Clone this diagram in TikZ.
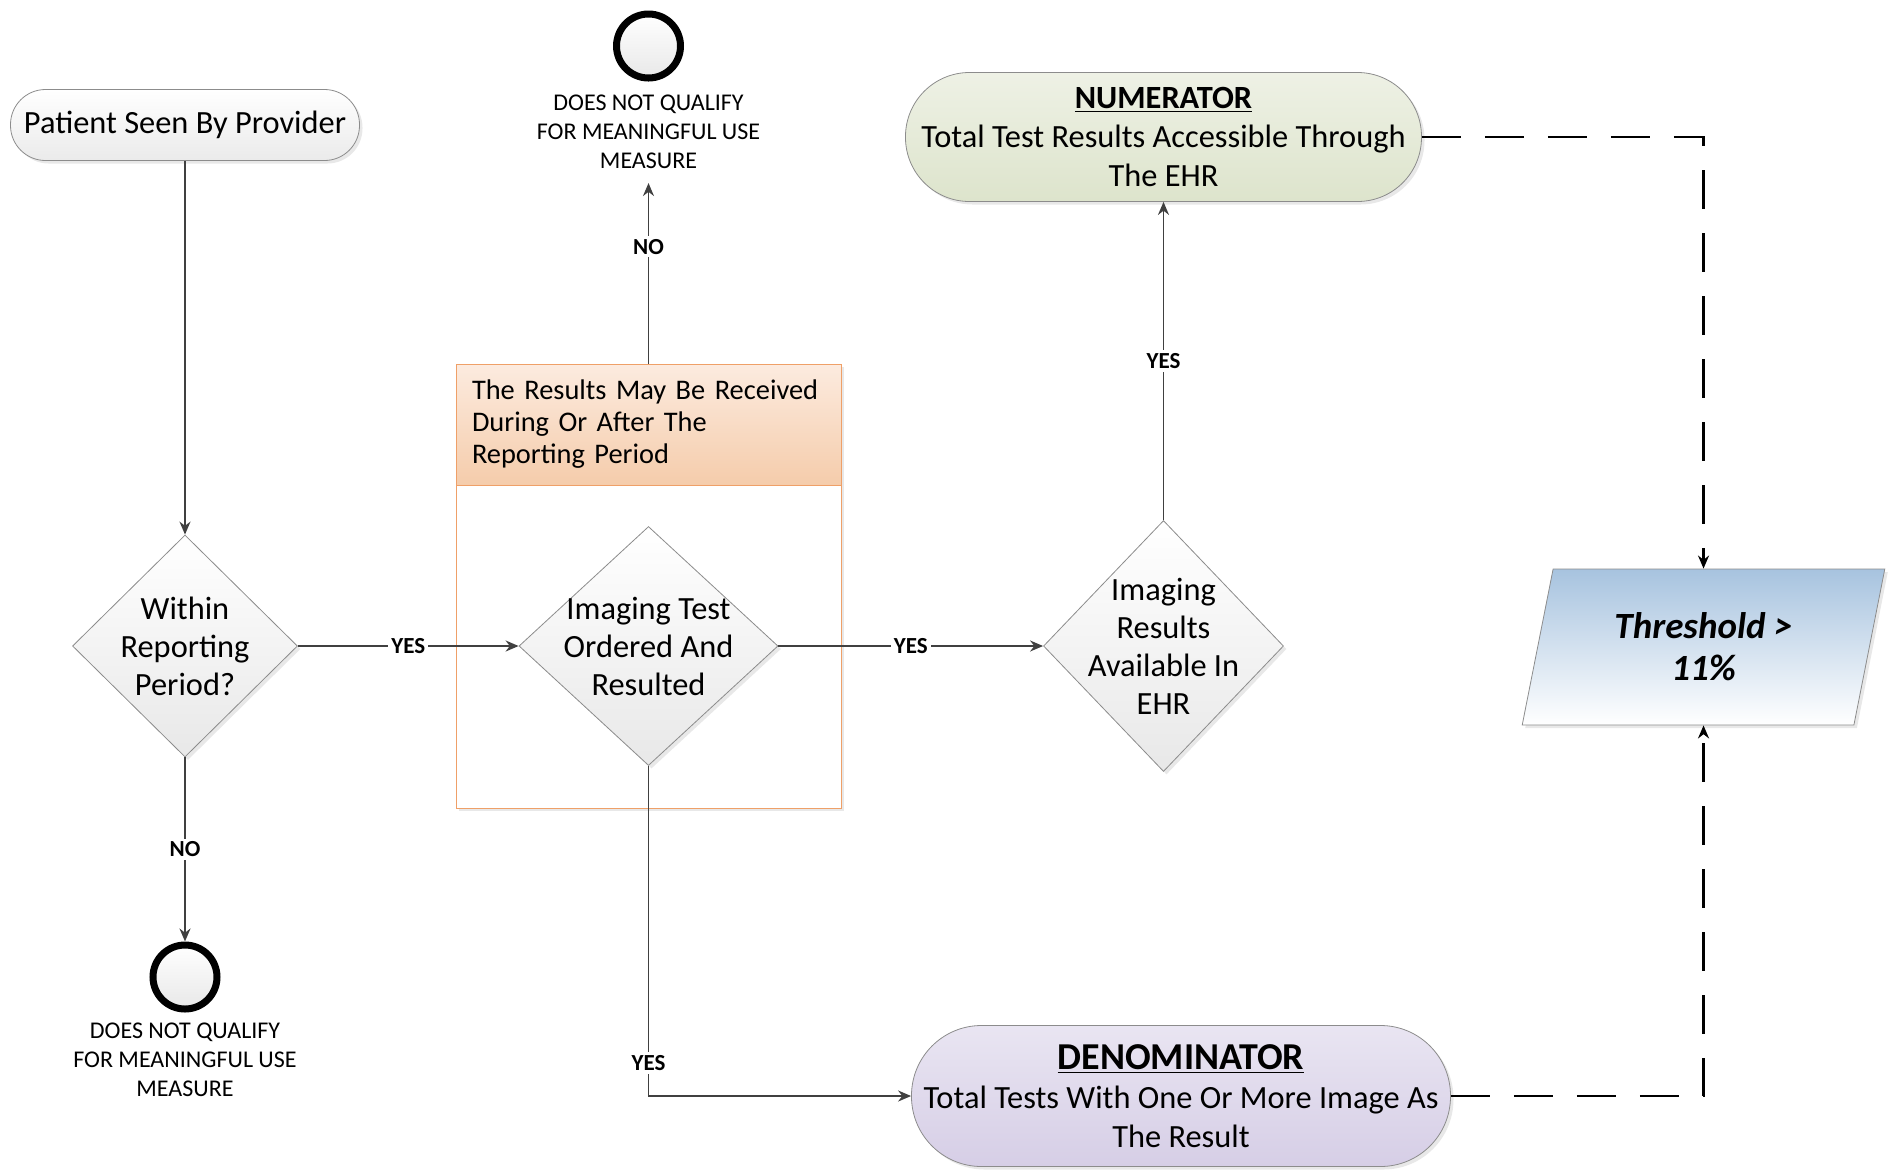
\documentclass[tikz,border=0pt]{standalone}
\usepackage{fontspec}
\setmainfont{Carlito}
\usepackage{tikz}
\usetikzlibrary{arrows.meta,positioning,shapes.geometric,shapes.misc,shadows}
\definecolor{lineGray}{HTML}{404040}
\definecolor{boxEdge}{HTML}{8C8C8C}
\definecolor{numTop}{HTML}{EEF1E5}
\definecolor{numBot}{HTML}{DDE4CC}
\definecolor{denTop}{HTML}{E9E5F2}
\definecolor{denBot}{HTML}{D6CEE6}
\definecolor{headTop}{HTML}{FCEBDF}
\definecolor{headBot}{HTML}{F5CCAB}
\definecolor{winEdge}{HTML}{EFA068}
\definecolor{thrTop}{HTML}{A7C3DF}
\tikzset{
  fc/shade/.style={drop shadow={opacity=0.18, shadow xshift=1.5pt, shadow yshift=-1.5pt}},
  fc/terminal/.style={draw=boxEdge, top color=white, bottom color=black!8, inner sep=0pt, align=center, font=\fontsize{16.2}{19.5}\selectfont, fc/shade},
  fc/decision/.style={draw=boxEdge, diamond, top color=white, bottom color=black!9, inner sep=0pt, fc/shade},
  fc/dectext/.style={align=center, inner sep=0pt, font=\fontsize{16.2}{19}\selectfont},
  fc/endpt/.style={circle, draw=black, line width=3.5pt, minimum size=32pt, top color=white, bottom color=black!9, inner sep=0pt},
  fc/endnote/.style={align=center, inner sep=0pt, font=\fontsize{12}{14.5}\selectfont},
  fc/window/.style={draw=winEdge, fill=white, minimum width=192.5pt, minimum height=222pt, inner sep=0pt, fc/shade},
  fc/winhead/.style={draw=winEdge, top color=headTop, bottom color=headBot, minimum width=192.5pt, minimum height=60.5pt, text width=176.5pt, inner xsep=8pt, align=left, font=\fontsize{14.2}{16}\selectfont},
  fc/io/.style={draw=boxEdge, trapezium, trapezium left angle=75, trapezium right angle=105, trapezium stretches=true, minimum width=181.5pt, minimum height=78pt, top color=thrTop, bottom color=white, align=center, inner sep=0pt, font=\bfseries\itshape\fontsize{18.5}{21}\selectfont, fc/shade},
  fc/yesno/.style={font=\bfseries\fontsize{11.5}{12}\selectfont, fill=white, inner sep=1.5pt},
  fc/arr/.style={-{Stealth[length=6.5pt,width=5.5pt]}, draw=lineGray, line width=0.9pt},
  fc/dash/.style={-{Stealth[length=6.5pt,width=5.5pt]}, draw=black, line width=1.1pt, dash pattern=on 19.5pt off 12pt}
}

\begin{document}
\begin{tikzpicture}[x=0.5pt, y=-0.5pt]
\useasboundingbox (0,0) rectangle (1891,1169);
\node[fc/window] (win) at (648.5,586) {};
\node[fc/winhead, anchor=north] (head) at (win.north) {The Results May Be Received\\During Or After The\\Reporting Period};
\node[fc/terminal, rounded corners=17.5pt, minimum width=174.5pt, minimum height=35.5pt] (patient) at (185,125) {Patient Seen By Provider};
\node[fc/decision, minimum width=112.5pt, minimum height=111pt, label={[fc/dectext]center:Within\\Reporting\\Period?}] (rep) at (185,646) {};
\node[fc/decision, minimum width=129.5pt, minimum height=119.5pt, label={[fc/dectext]center:Imaging Test\\Ordered And\\Resulted}] (ordered) at (648.5,646) {};
\node[fc/decision, minimum width=120pt, minimum height=125.5pt, label={[fc/dectext]center:Imaging\\Results\\Available In\\EHR}] (avail) at (1163.5,646) {};
\node[fc/terminal, rounded corners=32pt, minimum width=258pt, minimum height=64.5pt, top color=numTop, bottom color=numBot] (numer) at (1163.5,137) {\underline{\textbf{NUMERATOR}}\\Total Test Results Accessible Through\\The EHR};
\node[fc/terminal, rounded corners=35pt, minimum width=269.5pt, minimum height=70.5pt, top color=denTop, bottom color=denBot] (denom) at (1181,1096) {{\fontsize{19}{22}\selectfont\underline{\textbf{DENOMINATOR}}}\\Total Tests With One Or More Image As\\The Result};
\node[fc/io] (thr) at (1703.5,647) {Threshold >\\11\%};
\node[fc/endpt] (topend) at (648.5,46) {};
\node[fc/endnote, below=6.5pt of topend] (topnote) {DOES NOT QUALIFY\\FOR MEANINGFUL USE\\MEASURE};
\node[fc/endpt] (botend) at (185,977) {};
\node[fc/endnote, below=5pt of botend] (botnote) {DOES NOT QUALIFY\\FOR MEANINGFUL USE\\MEASURE};
\draw[fc/arr] (patient) -- (rep);
\draw[fc/arr] (rep) -- node[fc/yesno]{YES} (ordered);
\draw[fc/arr] (rep) -- node[fc/yesno]{NO} (botend);
\draw[fc/arr, shorten >=7pt] (win.north) -- node[fc/yesno, pos=0.6]{NO} (topnote.south);
\draw[fc/arr] (ordered) -- node[fc/yesno]{YES} (avail);
\draw[fc/arr] (avail) -- node[fc/yesno]{YES} (numer);
\draw[fc/arr] (ordered.south) |- node[fc/yesno, pos=0.45]{YES} (denom.west);
\draw[fc/dash] (numer.east) -| (thr.north);
\draw[fc/dash] (denom.east) -| (thr.south);
\end{tikzpicture}
\end{document}
